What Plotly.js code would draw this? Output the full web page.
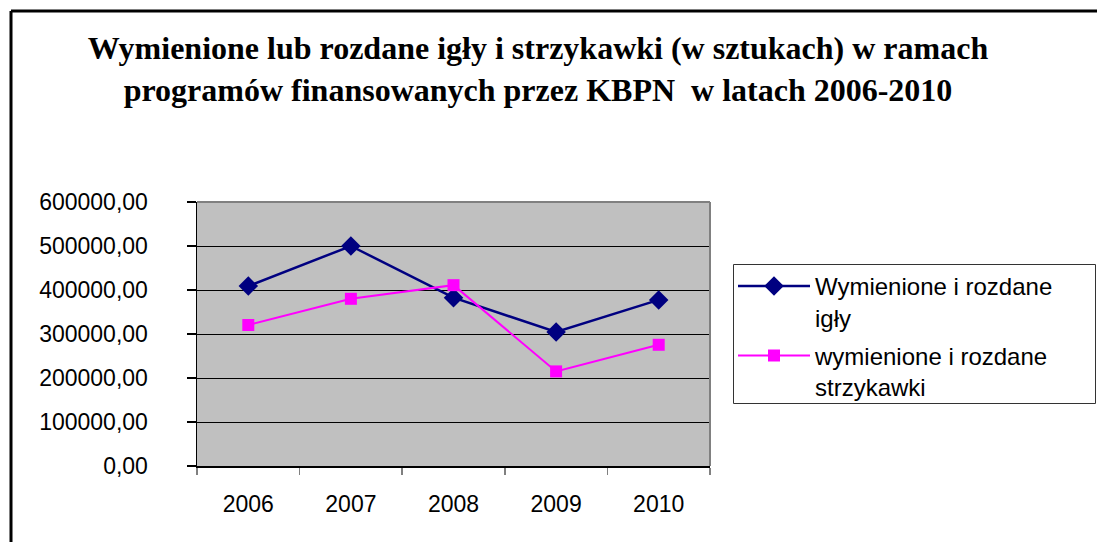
<!DOCTYPE html>
<html>
<head>
<meta charset="utf-8">
<script src="https://cdn.plot.ly/plotly-3.0.1.min.js"></script>
<style>
html,body{margin:0;padding:0;background:#fff;}
#chart{width:1097px;height:542px;}
</style>
</head>
<body>
<div id="chart"></div>
<script>
const years = ['2006', '2007', '2008', '2009', '2010'];
const igly = [409000, 500000, 382500, 304500, 377500];
const strzykawki = [320500, 380000, 411000, 215000, 275500];
const seriesNames = ['Wymienione i rozdane<br>igły', 'wymienione i rozdane<br>strzykawki'];
const yTicks = [0, 100000, 200000, 300000, 400000, 500000, 600000];

// plot area in pixels
const L = 197, R = 710, T = 202, B = 466, W = 1097, H = 542;
const pw = R - L, ph = B - T;
const px = v => (v - L) / pw;
const py = v => (B - v) / ph;

const traces = [
  {
    x: years, y: igly, name: seriesNames[0], type: 'scatter', mode: 'lines+markers',
    legendgroup: 'a',
    line: {color: '#000080', width: 2.5},
    marker: {symbol: 'diamond', size: 15, color: '#000080'}
  },
  {
    x: years, y: strzykawki, name: seriesNames[1], type: 'scatter', mode: 'lines+markers',
    legendgroup: 'b',
    line: {color: '#ff00ff', width: 2},
    marker: {symbol: 'square', size: 12, color: '#ff00ff'}
  }
];

const layout = {
  width: W, height: H,
  margin: {l: L, r: W - R, t: T, b: H - B, pad: 0},
  paper_bgcolor: '#ffffff',
  plot_bgcolor: '#c0c0c0',
  separators: ',.',
  font: {family: 'Liberation Sans, Arial, sans-serif', size: 23, color: '#000'},
  title: {
    text: 'Wymienione lub rozdane igły i strzykawki (w sztukach) w ramach<br>programów finansowanych przez KBPN  w latach 2006-2010',
    font: {family: 'Liberation Serif, Times New Roman, serif', size: 32, color: '#000', weight: 'bold'},
    xref: 'container', x: 538 / W, xanchor: 'center',
    yref: 'container', y: 1 - 59 / H, yanchor: 'top'
  },
  xaxis: {
    type: 'category',
    range: [-0.5, 4.5],
    tickson: 'boundaries',
    ticks: 'outside', ticklen: 7, tickcolor: '#808080', tickwidth: 1.5,
    showline: true, linecolor: '#000', linewidth: 1.5,
    showgrid: false, zeroline: false,
    ticklabelstandoff: 17,
    tickfont: {size: 23, color: '#000'},
    fixedrange: true
  },
  yaxis: {
    range: [0, 600000],
    tickvals: yTicks,
    tickformat: '.2f',
    ticks: 'outside', ticklen: 9, tickcolor: '#000', tickwidth: 1.5,
    showline: true, linecolor: '#000', linewidth: 1.5,
    showgrid: true, gridcolor: '#000', gridwidth: 1,
    zeroline: false,
    ticklabelstandoff: 34,
    tickfont: {size: 23, color: '#000'},
    fixedrange: true
  },
  legend: {
    x: px(733), y: py(264), xanchor: 'left', yanchor: 'top',
    xref: 'paper', yref: 'paper',
    bgcolor: 'rgba(0,0,0,0)', bordercolor: 'rgba(0,0,0,0)', borderwidth: 0,
    font: {size: 24, color: '#000'},
    valign: 'top',
    itemwidth: 72,
    tracegroupgap: 4
  },
  showlegend: true,
  shapes: [
    // plot area border (top & right, gray)
    {type: 'line', xref: 'paper', yref: 'paper', x0: 0, x1: 1, y0: 1, y1: 1, line: {color: '#808080', width: 2}, layer: 'above'},
    {type: 'line', xref: 'paper', yref: 'paper', x0: 1, x1: 1, y0: 0, y1: 1, line: {color: '#808080', width: 2}, layer: 'above'},
    // legend box
    {type: 'rect', xref: 'paper', yref: 'paper', x0: px(733.5), x1: px(1095.5), y0: py(403.5), y1: py(264.5), fillcolor: '#ffffff', line: {color: '#333333', width: 1}, layer: 'above'},
    // outer chart frame
    {type: 'line', xref: 'paper', yref: 'paper', x0: px(11), x1: px(1110), y0: py(11), y1: py(11), line: {color: '#000', width: 3}, layer: 'above'},
    {type: 'line', xref: 'paper', yref: 'paper', x0: px(11), x1: px(11), y0: py(11), y1: py(560), line: {color: '#000', width: 3}, layer: 'above'}
  ]
};

Plotly.newPlot('chart', traces, layout, {displayModeBar: false, staticPlot: true});
</script>
</body>
</html>
